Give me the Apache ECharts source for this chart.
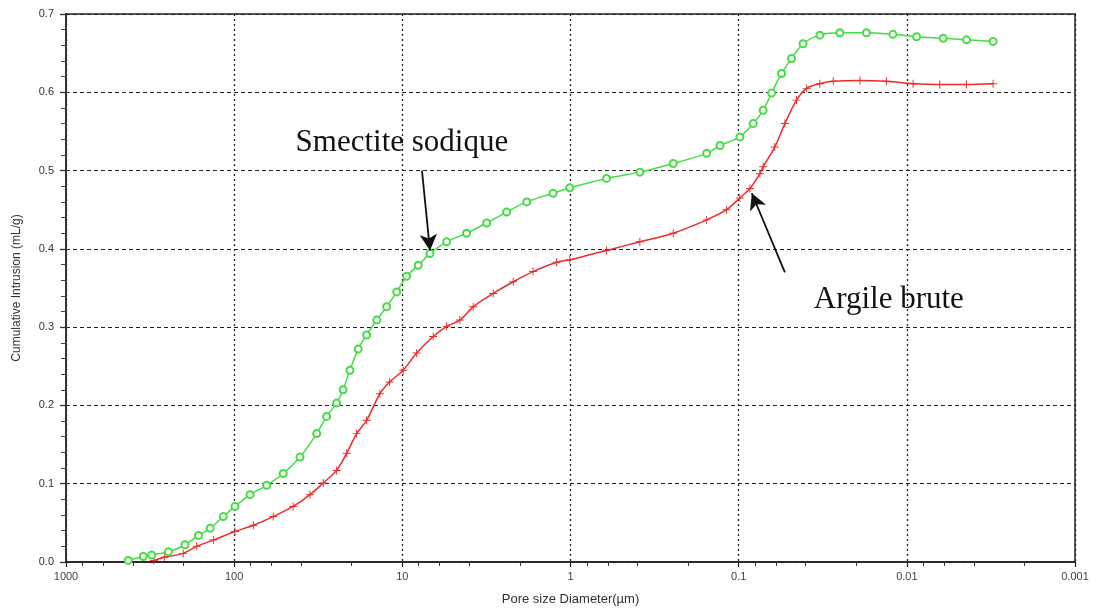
<!DOCTYPE html>
<html>
<head>
<meta charset="utf-8">
<script src="https://cdn.jsdelivr.net/npm/echarts@6/dist/echarts.min.js"></script>
<style>
html,body{margin:0;padding:0;background:#fff;}
#chart{width:1096px;height:613px;}
</style>
</head>
<body>
<div id="chart"></div>
<script>
// ---- data (pore diameter in µm, cumulative intrusion in mL/g) ----
const smectiteDiameter = [427,347,309,246,196,163,139,116,98.9,80.5,64.1,51.1,40.6,32.3,28.2,24.6,22.5,20.5,18.3,16.3,14.2,12.4,10.8,9.43,8.04,6.85,5.45,4.15,3.15,2.4,1.82,1.27,1.01,0.61,0.387,0.245,0.155,0.129,0.0984,0.082,0.0715,0.0637,0.0556,0.0485,0.0414,0.0329,0.025,0.0174,0.0121,0.00875,0.00608,0.00442,0.00307];
const smectiteValue = [0.002,0.007,0.009,0.013,0.022,0.034,0.043,0.058,0.071,0.086,0.098,0.113,0.134,0.164,0.186,0.203,0.22,0.245,0.272,0.29,0.309,0.326,0.345,0.365,0.379,0.394,0.409,0.42,0.433,0.447,0.46,0.471,0.478,0.49,0.498,0.509,0.522,0.532,0.543,0.56,0.577,0.599,0.624,0.643,0.662,0.673,0.676,0.676,0.674,0.671,0.669,0.667,0.665];

const argileDiameter = [300,260,201,167,133,98.9,76.9,58.6,44.6,35.4,29.5,24.6,21.4,18.7,16.3,13.6,11.9,9.88,8.22,6.55,5.45,4.55,3.79,2.88,2.19,1.67,1.21,1.01,0.61,0.387,0.245,0.155,0.118,0.0984,0.0857,0.0748,0.0715,0.061,0.0531,0.0453,0.0394,0.0329,0.0274,0.019,0.0132,0.00918,0.00637,0.00442,0.00307];
const argileValue = [0.002,0.006,0.011,0.020,0.028,0.039,0.047,0.058,0.071,0.086,0.101,0.117,0.139,0.164,0.181,0.215,0.23,0.245,0.267,0.288,0.301,0.309,0.326,0.343,0.358,0.371,0.383,0.386,0.398,0.409,0.42,0.437,0.45,0.465,0.477,0.496,0.505,0.53,0.56,0.59,0.605,0.611,0.614,0.615,0.614,0.611,0.61,0.61,0.611];

const xTickLabels = ['1000','100','10','1','0.1','0.01','0.001'];
const xMinorTicks = [800,600,400,200,80,60,40,20,8,6,4,2,0.8,0.6,0.4,0.2,0.08,0.06,0.04,0.02,0.008,0.006,0.004,0.002];

const smectiteLabel = 'Smectite sodique';
const argileLabel = 'Argile brute';
const smectiteLabelAt = [10.06, 0.535];
const smectiteArrow = [[7.64, 0.500], [6.85, 0.398]];
const argileLabelAt = [0.0128, 0.335];
const argileArrow = [[0.0531, 0.370], [0.0835, 0.471]];

// ---- chart ----
const zip = (xs, ys) => xs.map((x, i) => [x, ys[i]]);
const chart = echarts.init(document.getElementById('chart'), null, {renderer: 'canvas'});

const plusPath = 'path://M4.4,0h1.2v10h-1.2zM0,4.4h10v1.2h-10z';
const annoFont = {fontFamily: '"Liberation Serif", "DejaVu Serif", serif', fontSize: 31, color: '#111'};
const sans = 'Arial, "Liberation Sans", sans-serif';

const option = {
  animation: false,
  backgroundColor: '#ffffff',
  grid: {left: 66, right: 21, top: 14, bottom: 51, show: true, borderColor: '#5a5a5a', borderWidth: 2, backgroundColor: 'transparent'},
  xAxis: [{
    type: 'log', logBase: 10, inverse: true, min: 0.001, max: 1000,
    name: 'Pore size Diameter(µm)', nameLocation: 'middle', nameGap: 31,
    nameTextStyle: {fontFamily: sans, fontSize: 13, color: '#333'},
    axisLine: {show: true, onZero: false, lineStyle: {color: '#222', width: 1.5}},
    axisTick: {show: true, length: 5, lineStyle: {color: '#222', width: 1.2}},
    axisLabel: {margin: 9, fontFamily: sans, fontSize: 11, color: '#444',
      formatter: v => xTickLabels[3 - Math.round(Math.log10(v))]},
    splitLine: {show: true, lineStyle: {color: '#222', width: 1.3, type: [2, 3]}}
  }, {
    type: 'log', logBase: 10, inverse: true, min: 0.001, max: 1000, position: 'bottom',
    axisLine: {show: false},
    axisTick: {show: true, length: 4, customValues: xMinorTicks, lineStyle: {color: '#333', width: 1}},
    axisLabel: {show: false},
    splitLine: {show: false}
  }],
  yAxis: {
    type: 'value', min: 0, max: 0.7, interval: 0.1,
    name: 'Cumulative Intrusion (mL/g)', nameLocation: 'middle', nameGap: 43, nameRotate: 90,
    nameTextStyle: {fontFamily: sans, fontSize: 12, color: '#333'},
    axisLine: {show: true, lineStyle: {color: '#333', width: 2}},
    axisTick: {show: true, length: 6, lineStyle: {color: '#333', width: 1.3}},
    minorTick: {show: true, splitNumber: 5, length: 5, lineStyle: {color: '#444', width: 1}},
    axisLabel: {margin: 12, fontFamily: sans, fontSize: 11, color: '#333',
      formatter: v => v.toFixed(1)},
    splitLine: {show: true, lineStyle: {color: '#222', width: 1.2, type: [4, 3]}}
  },
  series: [{
    name: argileLabel, type: 'line', xAxisIndex: 0, data: zip(argileDiameter, argileValue),
    smooth: 0.3, symbol: plusPath, symbolSize: 8, showSymbol: true,
    lineStyle: {color: '#ee2a2a', width: 1.5},
    itemStyle: {color: '#ee2a2a'},
    markLine: {
      silent: true, symbol: ['none', 'arrow'], symbolSize: [13, 16], animation: false,
      lineStyle: {color: '#111', width: 1.8, type: 'solid'}, label: {show: false},
      data: [[{coord: argileArrow[0]}, {coord: argileArrow[1]}]]
    },
    markPoint: {
      silent: true, symbol: 'circle', symbolSize: 1, itemStyle: {color: 'rgba(0,0,0,0)'},
      label: Object.assign({show: true, position: 'inside', formatter: argileLabel}, annoFont),
      data: [{coord: argileLabelAt}]
    }
  }, {
    name: smectiteLabel, type: 'line', xAxisIndex: 0, data: zip(smectiteDiameter, smectiteValue),
    smooth: 0.3, symbol: 'emptyCircle', symbolSize: 7, showSymbol: true,
    lineStyle: {color: '#45dd45', width: 1.5},
    itemStyle: {color: '#45dd45', borderWidth: 1.2},
    markLine: {
      silent: true, symbol: ['none', 'arrow'], symbolSize: [13, 16], animation: false,
      lineStyle: {color: '#111', width: 1.8, type: 'solid'}, label: {show: false},
      data: [[{coord: smectiteArrow[0]}, {coord: smectiteArrow[1]}]]
    },
    markPoint: {
      silent: true, symbol: 'circle', symbolSize: 1, itemStyle: {color: 'rgba(0,0,0,0)'},
      label: Object.assign({show: true, position: 'inside', formatter: smectiteLabel}, annoFont),
      data: [{coord: smectiteLabelAt}]
    }
  }]
};
chart.setOption(option);
</script>
</body>
</html>
